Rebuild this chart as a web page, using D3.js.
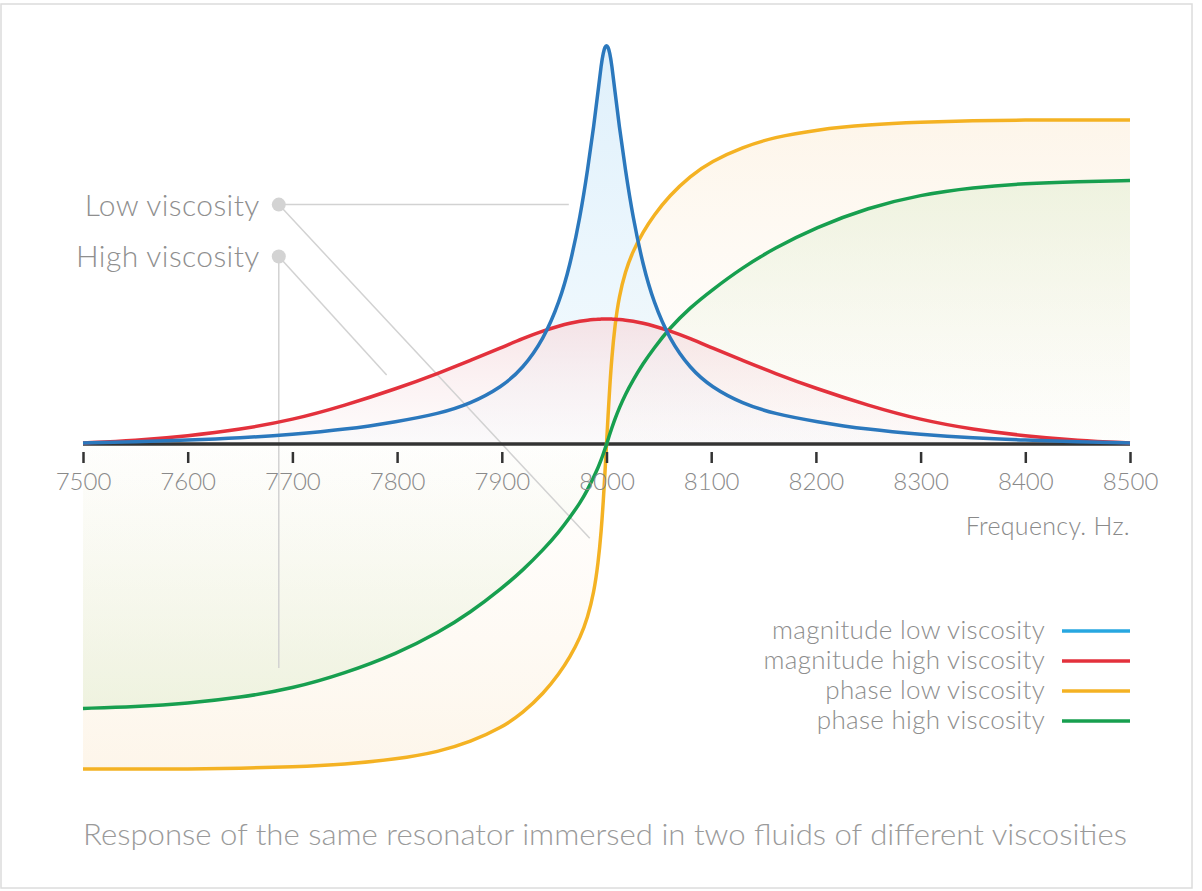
<!DOCTYPE html>
<html>
<head>
<meta charset="utf-8">
<script src="https://cdn.jsdelivr.net/npm/d3@7"></script>
<style>
  html, body { margin: 0; padding: 0; background: #fff; }
  svg { display: block; }
  text { font-family: Lato, "Open Sans", sans-serif; font-weight: 300; }
</style>
</head>
<body>
<svg id="chart" width="1202" height="891"></svg>
<script>
// ---- data ----
const frequencies = [7500,7550,7600,7650,7700,7750,7800,7840,7870,7900,7920,7940,7955,7965,7975,7982,7988,7992,7995,7997,7998.5,8000,8001.5,8003,8005,8008,8012,8018,8025,8035,8045,8060,8080,8100,8130,8160,8200,8250,8300,8350,8400,8450,8500];

// magnitude, normalised to the low-viscosity peak
const magnitudeLow = [0.0025,0.0055,0.0095,0.015,0.024,0.036,0.056,0.076,0.101,0.143,0.189,0.263,0.356,0.446,0.571,0.687,0.800,0.885,0.952,0.982,0.995,1.000,0.995,0.982,0.952,0.885,0.800,0.687,0.571,0.446,0.356,0.263,0.189,0.143,0.101,0.076,0.056,0.036,0.024,0.015,0.0095,0.0055,0.0025];
const magnitudeHigh = [0.0025,0.0088,0.0201,0.0363,0.0602,0.0965,0.1391,0.1779,0.2093,0.2419,0.2644,0.2840,0.2960,0.3028,0.3080,0.3105,0.3120,0.3128,0.3130,0.3133,0.3133,0.3133,0.3133,0.3133,0.3130,0.3128,0.3120,0.3105,0.3080,0.3028,0.2960,0.2840,0.2644,0.2419,0.2093,0.1779,0.1391,0.0965,0.0602,0.0363,0.0201,0.0088,0.0025];

// phase, degrees
const phaseLow = [-90,-90,-90,-89.8,-89.4,-88.7,-87.3,-85.2,-82.5,-78.5,-74.5,-69,-63.5,-59,-53.5,-48,-41,-33,-24,-15.5,-8,0,8,15.5,24,33,41,48,53.5,59,63.5,69,74.5,78.5,82.5,85.2,87.3,88.7,89.4,89.8,90,90,90];
const phaseHigh = [-73.2,-72.7,-71.8,-70.2,-67.7,-63.5,-58,-52.1,-46.6,-39.9,-34.9,-29.1,-24.1,-20.2,-16.1,-12.5,-8.9,-6.4,-4.2,-2.5,-1.25,0,1.4,2.8,4.5,7,10,13.9,17.7,22.5,26.6,32.2,38,42.7,49.1,54.4,60.2,65.7,69.3,71.3,72.4,72.9,73.2];

const tickValues = [7500,7600,7700,7800,7900,8000,8100,8200,8300,8400,8500];

const legendLabels = ["magnitude low viscosity","magnitude high viscosity","phase low viscosity","phase high viscosity"];
const legendColors = ["#27a7e0","#e3313c","#f4b223","#179f4f"];

const calloutLabels = ["Low viscosity","High viscosity"];
const axisTitle = "Frequency. Hz.";
const chartTitle = "Response of the same resonator immersed in two fluids of different viscosities";

// ---- drawing ----
const svg = d3.select("#chart");

svg.append("rect").attr("x",1).attr("y",4).attr("width",1191).attr("height",884)
  .attr("fill","#fff").attr("stroke","#dcdcdc").attr("stroke-width",1.5);

const x = d3.scaleLinear().domain([7500,8500]).range([83,1130]);
const yMag = d3.scaleLinear().domain([0,1]).range([444,45]);
const yPh = d3.scaleLinear().domain([-90,90]).range([769,120]);

const rows = frequencies.map((f,i)=>({f, ml:magnitudeLow[i], mh:magnitudeHigh[i], pl:phaseLow[i], ph:phaseHigh[i]}));

const defs = svg.append("defs");
function vGrad(id, y1, y2, stops){
  const g = defs.append("linearGradient").attr("id",id)
    .attr("gradientUnits","userSpaceOnUse").attr("x1",0).attr("x2",0).attr("y1",y1).attr("y2",y2);
  stops.forEach(s=>g.append("stop").attr("offset",s[0]).attr("stop-color",s[1]).attr("stop-opacity",s[2]));
}
vGrad("gOrange", yPh(90), yPh(-90), [[0,"#fbead0",0.45],[0.5,"#fdf3e6",0.05],[1,"#fbead0",0.45]]);
vGrad("gGreen", yPh(90), yPh(-90), [[0,"#e3eed2",0.75],[0.5,"#eef4e4",0.05],[1,"#e3eed2",0.75]]);
vGrad("gBlue", yMag(1), yMag(0), [[0,"#dff0fb",1],[0.7,"#eaf6fd",0.8],[1,"#f2f9fd",0.3]]);
vGrad("gRed", yMag(0.313), yMag(0), [[0,"#f6dde0",0.8],[1,"#fbf1f2",0.3]]);

const curve = d3.curveBasis;
function areaOf(key, yS){
  return d3.area().curve(curve).x(d=>x(d.f)).y0(yS(0)).y1(d=>yS(d[key]));
}
function lineOf(key, yS){
  return d3.line().curve(curve).x(d=>x(d.f)).y(d=>yS(d[key]));
}

// fills
svg.append("path").datum(rows).attr("d",areaOf("pl",yPh)).attr("fill","url(#gOrange)");
svg.append("path").datum(rows).attr("d",areaOf("ph",yPh)).attr("fill","url(#gGreen)");
svg.append("path").datum(rows).attr("d",areaOf("ml",yMag)).attr("fill","url(#gBlue)");
svg.append("path").datum(rows).attr("d",areaOf("mh",yMag)).attr("fill","url(#gRed)");

// callouts (positioned in data space)
const cg = svg.append("g").attr("stroke","#d2d2d2").attr("stroke-width",1.5).attr("fill","none");
const lowDot = [x(7687), yMag(0.6)];
const highDot = [x(7687), yMag(0.47)];
cg.append("line").attr("x1",lowDot[0]).attr("y1",lowDot[1]).attr("x2",x(7964)).attr("y2",lowDot[1]);
cg.append("line").attr("x1",lowDot[0]).attr("y1",lowDot[1]).attr("x2",x(7984)).attr("y2",yPh(-26));
cg.append("line").attr("x1",highDot[0]).attr("y1",highDot[1]).attr("x2",x(7790)).attr("y2",yMag(0.173));
cg.append("line").attr("x1",highDot[0]).attr("y1",highDot[1]).attr("x2",highDot[0]).attr("y2",yPh(-62));
[lowDot, highDot].forEach((p,i)=>{
  svg.append("circle").attr("cx",p[0]).attr("cy",p[1]).attr("r",7).attr("fill","#d3d3d3");
  svg.append("text").attr("x",p[0]-19).attr("y",p[1]+11).attr("text-anchor","end")
    .attr("font-size",30).attr("letter-spacing",0.4).attr("fill","#8f8f8f").text(calloutLabels[i]);
});

// axis baseline
svg.append("line").attr("x1",x(7500)).attr("x2",x(8500)).attr("y1",yMag(0)).attr("y2",yMag(0))
  .attr("stroke","#333").attr("stroke-width",3.5);

// lines
svg.append("path").datum(rows).attr("d",lineOf("pl",yPh)).attr("fill","none").attr("stroke","#f4b223").attr("stroke-width",3.5);
svg.append("path").datum(rows).attr("d",lineOf("ph",yPh)).attr("fill","none").attr("stroke","#179f4f").attr("stroke-width",3.5);
svg.append("path").datum(rows).attr("d",lineOf("mh",yMag)).attr("fill","none").attr("stroke","#e3313c").attr("stroke-width",3.5);
svg.append("path").datum(rows).attr("d",lineOf("ml",yMag)).attr("fill","none").attr("stroke","#2b78bd").attr("stroke-width",3.5);

// x axis ticks & labels
const axis = d3.axisBottom(x).tickValues(tickValues).tickSize(11).tickPadding(10).tickFormat(d3.format("d"));
const ag = svg.append("g").attr("transform",`translate(0,${yMag(0)+8})`).call(axis);
ag.select(".domain").remove();
ag.selectAll(".tick line").attr("stroke","#333").attr("stroke-width",2.5);
ag.selectAll(".tick text").attr("font-size",24).attr("fill","#8a8a8a")
  .style("font-family","Lato, 'Open Sans', sans-serif").style("font-weight",300);

svg.append("text").attr("x",x(8500)).attr("y",535).attr("text-anchor","end")
  .attr("font-size",25).attr("letter-spacing",0.3).attr("fill","#8a8a8a").text(axisTitle);

// legend
legendLabels.forEach((t,i)=>{
  const yy = 631 + i*30;
  svg.append("text").attr("x",1045).attr("y",yy+8).attr("text-anchor","end")
    .attr("font-size",26).attr("letter-spacing",0.3).attr("fill","#8d8d8d").text(t);
  svg.append("line").attr("x1",1062).attr("x2",x(8500)).attr("y1",yy).attr("y2",yy)
    .attr("stroke",legendColors[i]).attr("stroke-width",3.5);
});

// title
svg.append("text").attr("x",x(7500)).attr("y",845).attr("font-size",29).attr("fill","#9a9a9a")
  .attr("textLength",1044).attr("lengthAdjust","spacingAndGlyphs").text(chartTitle);
</script>
</body>
</html>
